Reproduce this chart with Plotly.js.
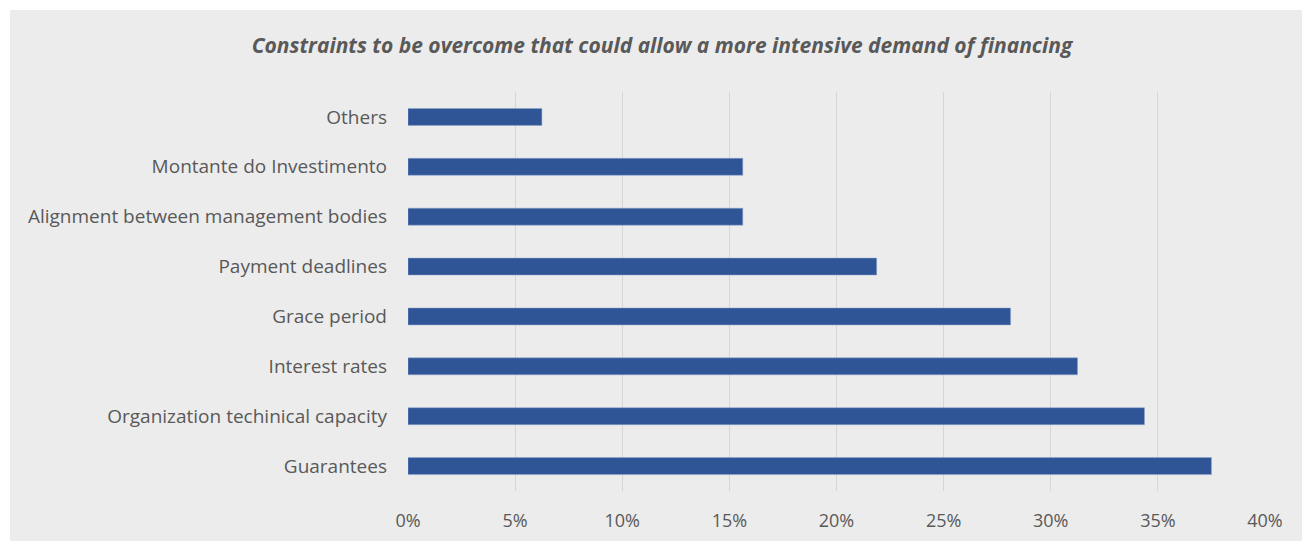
<!DOCTYPE html>
<html>
<head>
<meta charset="utf-8">
<script src="https://cdn.plot.ly/plotly-3.0.1.min.js"></script>
<style>
html,body{margin:0;padding:0;background:#ffffff;}
#chart{position:absolute;left:10px;top:10px;width:1292px;height:531px;}
</style>
</head>
<body>
<div id="chart"></div>
<script>
const categories = [
  "Guarantees",
  "Organization techinical capacity",
  "Interest rates",
  "Grace period",
  "Payment deadlines",
  "Alignment between management bodies",
  "Montante do Investimento",
  "Others"
];
const values = [0.375, 0.34375, 0.3125, 0.28125, 0.21875, 0.15625, 0.15625, 0.0625];
const tickVals = [0, 0.05, 0.10, 0.15, 0.20, 0.25, 0.30, 0.35, 0.40];
const tickText = ["0%", "5%", "10%", "15%", "20%", "25%", "30%", "35%", "40%"];

const font = "'Open Sans', 'Noto Sans', sans-serif";
const trace = {
  type: "bar",
  orientation: "h",
  y: categories,
  x: values,
  width: 0.34,
  marker: {color: "#2f5597", line: {color: "#8fa6cf", width: 0.5}},
  hoverinfo: "x+y"
};
const layout = {
  width: 1292,
  height: 531,
  paper_bgcolor: "#ececec",
  plot_bgcolor: "#ececec",
  margin: {l: 398, r: 37, t: 82, b: 50},
  title: {
    text: "<b><i>Constraints to be overcome that could allow a more intensive demand of financing</i></b>",
    font: {family: font, size: 21, color: "#595959"},
    x: 652/1292, xanchor: "center", xref: "container",
    y: 1 - 36/531, yanchor: "middle", yref: "container"
  },
  showlegend: false,
  xaxis: {
    range: [0, 0.40],
    tickvals: tickVals,
    ticktext: tickText,
    showgrid: true,
    gridcolor: "#d6d6d6",
    gridwidth: 1,
    zeroline: false,
    showline: false,
    ticks: "",
    ticklabelstandoff: 17,
    tickfont: {family: font, size: 18, color: "#595959"},
    fixedrange: true
  },
  yaxis: {
    type: "category",
    categoryorder: "array",
    categoryarray: categories,
    showgrid: false,
    zeroline: false,
    showline: false,
    ticks: "",
    ticklabelstandoff: 20,
    tickfont: {family: font, size: 19, color: "#595959"},
    fixedrange: true
  }
};
Plotly.newPlot("chart", [trace], layout, {displayModeBar: false, staticPlot: true});
</script>
</body>
</html>
